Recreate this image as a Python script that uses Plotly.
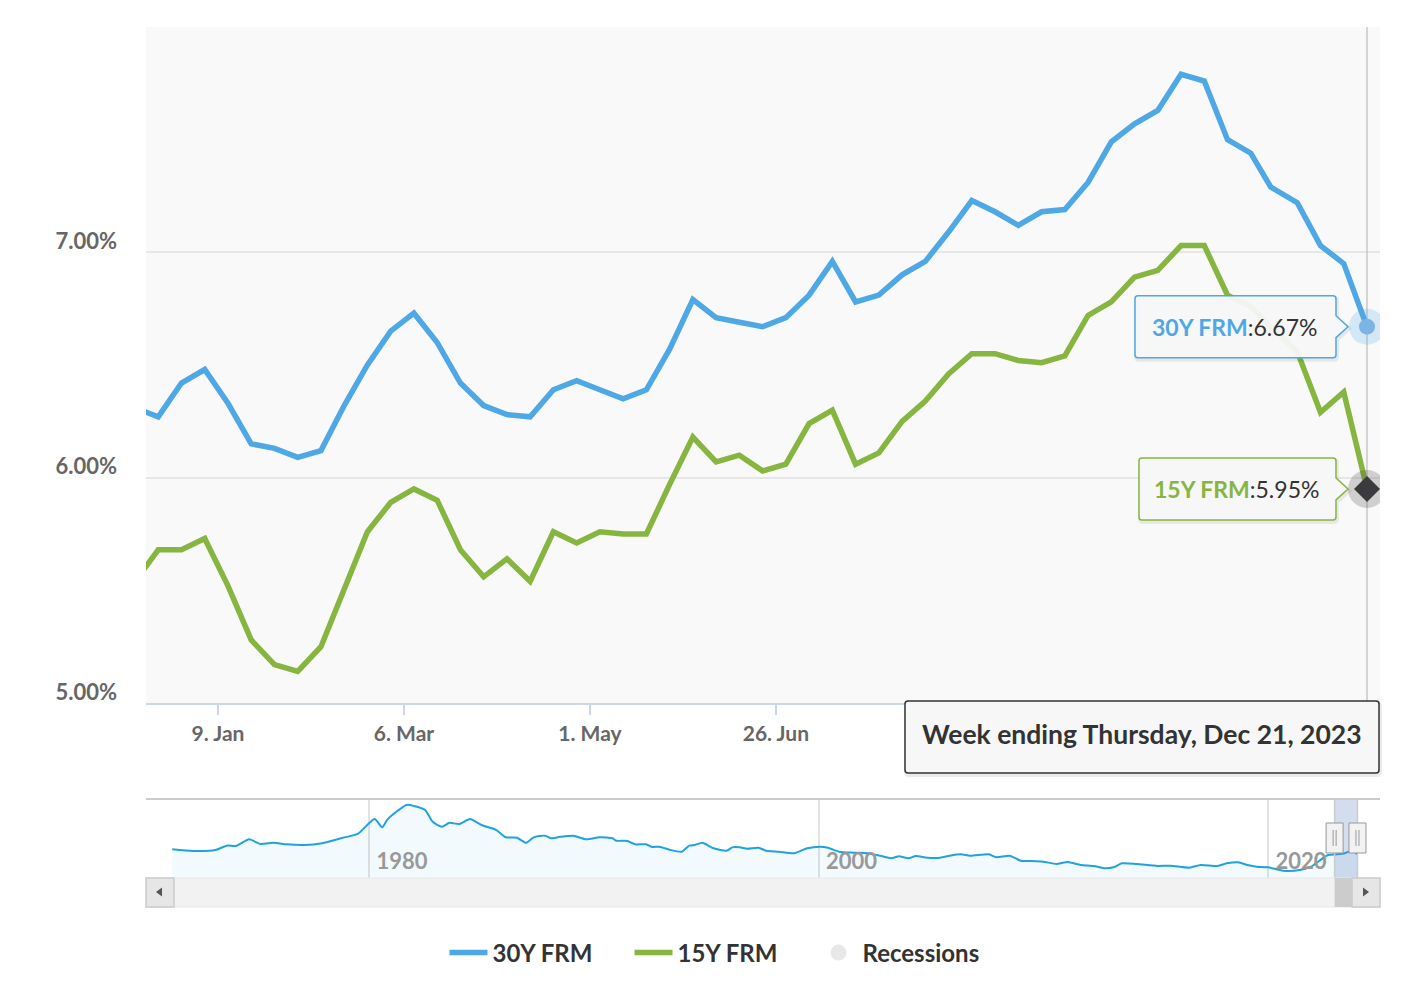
import plotly.graph_objects as go

# ---------------- data ----------------
dates = [
    "2022-12-15", "2022-12-22", "2022-12-29",
    "2023-01-05", "2023-01-12", "2023-01-19", "2023-01-26",
    "2023-02-02", "2023-02-09", "2023-02-16", "2023-02-23",
    "2023-03-02", "2023-03-09", "2023-03-16", "2023-03-23", "2023-03-30",
    "2023-04-06", "2023-04-13", "2023-04-20", "2023-04-27",
    "2023-05-04", "2023-05-11", "2023-05-18", "2023-05-25",
    "2023-06-01", "2023-06-08", "2023-06-15", "2023-06-22", "2023-06-29",
    "2023-07-06", "2023-07-13", "2023-07-20", "2023-07-27",
    "2023-08-03", "2023-08-10", "2023-08-17", "2023-08-24", "2023-08-31",
    "2023-09-07", "2023-09-14", "2023-09-21", "2023-09-28",
    "2023-10-05", "2023-10-12", "2023-10-19", "2023-10-26",
    "2023-11-02", "2023-11-09", "2023-11-16", "2023-11-22", "2023-11-30",
    "2023-12-07", "2023-12-14", "2023-12-21",
]
rate_30y = [
    6.31, 6.27, 6.42,
    6.48, 6.33, 6.15, 6.13,
    6.09, 6.12, 6.32, 6.50,
    6.65, 6.73, 6.60, 6.42, 6.32,
    6.28, 6.27, 6.39, 6.43,
    6.39, 6.35, 6.39, 6.57,
    6.79, 6.71, 6.69, 6.67, 6.71,
    6.81, 6.96, 6.78, 6.81,
    6.90, 6.96, 7.09, 7.23, 7.18,
    7.12, 7.18, 7.19, 7.31,
    7.49, 7.57, 7.63, 7.79,
    7.76, 7.50, 7.44, 7.29, 7.22,
    7.03, 6.95, 6.67,
]
rate_15y = [
    5.54, 5.68, 5.68,
    5.73, 5.52, 5.28, 5.17,
    5.14, 5.25, 5.51, 5.76,
    5.89, 5.95, 5.90, 5.68, 5.56,
    5.64, 5.54, 5.76, 5.71,
    5.76, 5.75, 5.75, 5.97,
    6.18, 6.07, 6.10, 6.03, 6.06,
    6.24, 6.30, 6.06, 6.11,
    6.25, 6.34, 6.46, 6.55, 6.55,
    6.52, 6.51, 6.54, 6.72,
    6.78, 6.89, 6.92, 7.03,
    7.03, 6.81, 6.76, 6.67, 6.56,
    6.29, 6.38, 5.95,
]

# navigator (long history of the 30Y rate, read from the overview strip)
nav_dates = [
    "1971-04-01", "1972-03-01", "1973-03-01", "1973-09-01", "1974-02-01", "1974-09-01",
    "1975-03-01", "1975-10-01", "1976-05-01", "1977-02-01", "1977-12-01", "1978-11-01",
    "1979-07-01", "1980-04-01", "1980-08-01", "1980-11-01", "1981-09-01", "1982-01-01",
    "1982-07-01", "1982-11-01", "1983-04-01", "1983-08-01", "1984-01-01", "1984-07-01",
    "1985-01-01", "1985-09-01", "1986-02-01", "1986-08-01", "1987-01-01", "1987-05-01",
    "1987-11-01", "1988-02-01", "1988-07-01", "1989-02-01", "1989-09-01", "1990-04-01",
    "1990-11-01", "1991-01-01", "1991-07-01", "1991-11-01", "1992-05-01", "1992-08-01",
    "1992-12-01", "1993-06-01", "1993-12-01", "1994-04-01", "1994-07-01", "1994-11-01",
    "1995-05-01", "1995-12-01", "1996-03-01", "1996-07-01", "1996-11-01", "1997-05-01",
    "1997-09-01", "1998-04-01", "1998-12-01", "1999-07-01", "2000-02-01", "2000-06-01",
    "2000-12-01", "2001-08-01", "2002-03-01", "2002-12-01", "2003-04-01", "2003-08-01",
    "2004-01-01", "2004-05-01", "2004-11-01", "2005-06-01", "2005-11-01", "2006-05-01",
    "2006-10-01", "2007-08-01", "2007-12-01", "2008-07-01", "2009-01-01", "2009-06-01",
    "2010-01-01", "2010-08-01", "2011-02-01", "2011-09-01", "2012-04-01", "2012-10-01",
    "2013-03-01", "2013-07-01", "2014-03-01", "2015-02-01", "2015-09-01", "2016-07-01",
    "2017-01-01", "2017-10-01", "2018-03-01", "2018-09-01", "2019-02-01", "2019-07-01",
    "2020-01-01", "2020-09-01", "2021-06-01", "2021-12-01", "2022-09-01", "2023-02-01",
    "2023-06-01", "2023-10-01", "2023-12-21",
]
nav_30y = [
    7.78, 7.40, 7.60, 8.57, 8.50, 9.97,
    8.94, 9.20, 8.87, 8.72, 9.10, 10.30,
    11.13, 14.40, 12.60, 14.40, 17.50, 17.27,
    16.40, 13.80, 12.70, 13.60, 13.30, 14.40,
    13.10, 12.00, 10.40, 10.30, 9.20, 10.40,
    10.76, 10.20, 10.50, 10.76, 9.97, 10.40,
    10.20, 9.66, 9.60, 8.87, 8.87, 8.28,
    8.35, 7.62, 7.25, 8.57, 8.72, 9.23,
    8.00, 7.47, 8.20, 8.20, 7.90, 8.13,
    7.47, 7.25, 6.90, 8.00, 8.35, 8.13,
    7.25, 7.03, 6.90, 6.16, 5.80, 6.24,
    5.80, 6.30, 5.94, 5.94, 6.37, 6.68,
    6.37, 6.68, 6.02, 6.37, 5.28, 5.21,
    5.06, 4.55, 4.99, 4.34, 4.12, 3.60,
    3.90, 4.70, 4.55, 4.12, 4.18, 3.74,
    4.34, 4.12, 4.70, 4.93, 4.34, 3.96,
    3.83, 3.09, 3.24, 3.96, 6.53, 6.68,
    6.90, 7.50, 6.67,
]

# ticks: the last three labels sit under the date box in the reference, so left blank
tick_dates = ["2023-01-09", "2023-03-06", "2023-05-01", "2023-06-26",
              "2023-08-21", "2023-10-16", "2023-12-11"]
tick_labels = ["9. Jan", "6. Mar", "1. May", "26. Jun", "", "", ""]
y_ticks = [5, 6, 7, 8]
y_tick_labels = ["5.00%", "6.00%", "7.00%", ""]
nav_tick_dates = ["1980-01-01", "2000-01-01", "2020-01-01"]
nav_tick_labels = ["1980", "2000", "2020"]

series_names = ["30Y FRM", "15Y FRM", "Recessions"]
date_label = "Week ending Thursday, Dec 21, 2023"

# ---------------- styling / geometry ----------------
BODY = 8
W, H = 1418 - BODY, 988 - BODY
PL, PR, PT, PB = 146, 1380, 27, 907
PW, PH = PR - PL, PB - PT
MAIN_BOTTOM = 703
NAV_TOP, NAV_BOTTOM = 799, 878

C30 = "#4ea8e5"
C15 = "#86b540"
FONT = "Lato"

main_range = ["2022-12-18 07:40", "2023-12-24 22:00"]
nav_range = ["1970-01-29", "2024-12-25"]
y_range = [5, 8]
y2_range = [1.48, 18.8]


def fy(py):
    return (PB - py) / PH


def fx(px):
    return (px - PL) / PW


def off(px, py):
    return px - PL, PT - py


def rr_path(x0, y0, x1, y1, r, dx=0, dy=0):
    a, b = off(x0 + dx, y0 + dy)
    c, d = off(x1 + dx, y1 + dy)
    return (f"M {a + r},{b} L {c - r},{b} Q {c},{b} {c},{b - r} "
            f"L {c},{d + r} Q {c},{d} {c - r},{d} L {a + r},{d} "
            f"Q {a},{d} {a},{d + r} L {a},{b - r} Q {a},{b} {a + r},{b} Z")


def pshape(path, **kw):
    d = dict(type="path", xref="paper", yref="paper", xsizemode="pixel",
             ysizemode="pixel", xanchor=0, yanchor=1, path=path, layer="above")
    d.update(kw)
    return d


def prect(x0, y0, x1, y1, **kw):
    a, b = off(x0, y0)
    c, d = off(x1, y1)
    s = dict(type="rect", xref="paper", yref="paper", xsizemode="pixel",
             ysizemode="pixel", xanchor=0, yanchor=1, x0=a, x1=c, y0=d, y1=b,
             layer="above")
    s.update(kw)
    return s


def callout(Lx, Rx, T, B, tipx, base, r=3, dx=0, dy=0):
    Lx, Rx, tipx = Lx + dx, Rx + dx, tipx + dx
    T, B = T + dy, B + dy
    return (f"M {Lx + r},{T} L {Rx - r},{T} Q {Rx},{T} {Rx},{T - r} "
            f"L {Rx},{base + dy} L {tipx},{dy} L {Rx},{-base + dy} "
            f"L {Rx},{B + r} Q {Rx},{B} {Rx - r},{B} L {Lx + r},{B} "
            f"Q {Lx},{B} {Lx},{B + r} L {Lx},{T - r} Q {Lx},{T} {Lx + r},{T} Z")


fig = go.Figure()

fig.add_trace(go.Scatter(x=dates, y=rate_30y, mode="lines", name=series_names[0],
                         line=dict(color=C30, width=5.5), xaxis="x", yaxis="y"))
fig.add_trace(go.Scatter(x=dates, y=rate_15y, mode="lines", name=series_names[1],
                         line=dict(color=C15, width=5.5), xaxis="x", yaxis="y"))
fig.add_trace(go.Scatter(x=[None], y=[None], mode="markers", name=series_names[2],
                         marker=dict(color="#e8e8e8", size=24, symbol="circle"),
                         xaxis="x", yaxis="y"))

fig.add_trace(go.Scatter(x=[dates[-1]], y=[rate_30y[-1]], mode="markers", showlegend=False,
                         marker=dict(size=36, color="rgba(78,168,229,0.22)", line=dict(width=0))))
fig.add_trace(go.Scatter(x=[dates[-1]], y=[rate_30y[-1]], mode="markers", showlegend=False,
                         marker=dict(size=16, color="#7db4e8", line=dict(width=0))))
fig.add_trace(go.Scatter(x=[dates[-1]], y=[rate_15y[-1]], mode="markers", showlegend=False,
                         marker=dict(size=38, color="rgba(60,60,60,0.22)", line=dict(width=0))))
fig.add_trace(go.Scatter(x=[dates[-1]], y=[rate_15y[-1]], mode="markers", showlegend=False,
                         marker=dict(size=20, color="#3a3a3f", symbol="diamond",
                                     line=dict(width=0))))

fig.add_trace(go.Scatter(x=nav_dates, y=nav_30y, mode="lines", showlegend=False,
                         line=dict(color="#1ea2e0", width=2, shape="spline", smoothing=0.6),
                         fill="tozeroy", fillcolor="rgba(30,162,224,0.06)",
                         xaxis="x2", yaxis="y2"))

shapes = []
shapes.append(prect(PL, PT, PR, MAIN_BOTTOM, fillcolor="#f9f9f9", line=dict(width=0),
                    layer="below"))
shapes.append(dict(type="line", xref="x", yref="y", x0=dates[-1], x1=dates[-1],
                   y0=y_range[0], y1=y_range[1], line=dict(color="#c8c8c8", width=1.5),
                   layer="between"))

for val, col, left in [(rate_30y[-1], C30, -232), (rate_15y[-1], C15, -228)]:
    common = dict(type="path", xref="x", yref="y", xsizemode="pixel", ysizemode="pixel",
                  xanchor=dates[-1], yanchor=val, layer="above")
    shapes.append(dict(common, path=callout(left, -31, 31, -31, -19, 11, dx=1, dy=-2),
                       fillcolor="rgba(0,0,0,0)", line=dict(color="rgba(0,0,0,0.07)", width=4)))
    shapes.append(dict(common, path=callout(left, -31, 31, -31, -19, 11),
                       fillcolor="rgba(247,247,247,0.95)", line=dict(color=col, width=1.5)))

shapes.append(pshape(rr_path(905, 701, 1379, 773, 3, dx=1, dy=2), fillcolor="rgba(0,0,0,0)",
                     line=dict(color="rgba(0,0,0,0.08)", width=4)))
shapes.append(pshape(rr_path(905, 701, 1379, 773, 3), fillcolor="#f7f7f7",
                     line=dict(color="#333333", width=1.5)))

# navigator selection mask and outline
shapes.append(dict(type="rect", xref="x2", yref="y2", x0=main_range[0], x1=main_range[1],
                   y0=y2_range[0], y1=y2_range[1], fillcolor="rgba(102,133,194,0.28)",
                   line=dict(width=0), layer="above"))
top_off = off(PL, NAV_TOP)[1]
bot_off = off(PL, NAV_BOTTOM)[1]
shapes.append(prect(PL, NAV_TOP - 1, PR, NAV_TOP + 1, fillcolor="#cccccc", line=dict(width=0)))
for edge in main_range:
    shapes.append(dict(type="line", xref="x2", yref="paper", xsizemode="pixel",
                       ysizemode="pixel", xanchor=edge, yanchor=1, x0=0, x1=0,
                       y0=top_off, y1=bot_off, line=dict(color="#cccccc", width=1.5),
                       layer="above"))

# scrollbar
sb_top = off(0, NAV_BOTTOM)[1]
sb_bot = off(0, PB)[1]
shapes.append(prect(PL, NAV_BOTTOM, PR, PB, fillcolor="#f2f2f2",
                    line=dict(color="#e8e8e8", width=1)))
shapes.append(dict(type="path", xref="x2", yref="paper", xsizemode="pixel", ysizemode="pixel",
                   xanchor=main_range[0], yanchor=1,
                   path=f"M 0,{sb_top} L 30,{sb_top} L 30,{sb_bot} L 0,{sb_bot} Z",
                   fillcolor="#cccccc", line=dict(width=0), layer="above"))
shapes.append(prect(PL, NAV_BOTTOM, PL + 28, PB, fillcolor="#e6e6e6",
                    line=dict(color="#cccccc", width=1.5)))
shapes.append(prect(PR - 28, NAV_BOTTOM, PR, PB, fillcolor="#e6e6e6",
                    line=dict(color="#cccccc", width=1.5)))
ax, ay = off(156, 892)
shapes.append(pshape(f"M {ax},{ay} L {ax + 6},{ay + 4.5} L {ax + 6},{ay - 4.5} Z",
                     fillcolor="#555555", line=dict(width=0)))
ax, ay = off(1369, 892)
shapes.append(pshape(f"M {ax},{ay} L {ax - 6},{ay + 4.5} L {ax - 6},{ay - 4.5} Z",
                     fillcolor="#555555", line=dict(width=0)))

# navigator handles
hy_top = off(0, 823)[1]
hy_bot = off(0, 853)[1]
hy_mid = (hy_top + hy_bot) / 2
for edge in main_range:
    base = dict(xref="x2", yref="paper", xsizemode="pixel", ysizemode="pixel",
                xanchor=edge, yanchor=1, layer="above")
    shapes.append(dict(base, type="path",
                       path=f"M -8.5,{hy_top} L 8.5,{hy_top} L 8.5,{hy_bot} L -8.5,{hy_bot} Z",
                       fillcolor="#f2f2f2", line=dict(color="#999999", width=1)))
    shapes.append(dict(base, type="path",
                       path=f"M -1.5,{hy_mid + 8} L -1.5,{hy_mid - 8} M 1.5,{hy_mid + 8} L 1.5,{hy_mid - 8}",
                       line=dict(color="#999999", width=1)))

annotations = [
    dict(x=dates[-1], y=rate_30y[-1], xref="x", yref="y", showarrow=False,
         xanchor="center", yanchor="middle", xshift=-132, yshift=0,
         text=f"<b><span style='color:{C30}'>{series_names[0]}</span></b>:{rate_30y[-1]:.2f}%",
         font=dict(family=FONT, size=23, color="#333333")),
    dict(x=dates[-1], y=rate_15y[-1], xref="x", yref="y", showarrow=False,
         xanchor="center", yanchor="middle", xshift=-130, yshift=0,
         text=f"<b><span style='color:{C15}'>{series_names[1]}</span></b>:{rate_15y[-1]:.2f}%",
         font=dict(family=FONT, size=23, color="#333333")),
    dict(x=fx(1142), y=fy(734), xref="paper", yref="paper", showarrow=False,
         xanchor="center", yanchor="middle", text=f"<b>{date_label}</b>",
         font=dict(family=FONT, size=26.5, color="#333333")),
]

fig.update_layout(
    width=W, height=H,
    margin=dict(l=PL - BODY, r=W - (PR - BODY), t=PT - BODY, b=H - (PB - BODY), pad=0),
    paper_bgcolor="white", plot_bgcolor="rgba(0,0,0,0)",
    hovermode=False,
    font=dict(family=FONT, color="#666666"),
    xaxis=dict(domain=[0, 1], anchor="y", type="date", range=main_range,
               tickmode="array", tickvals=tick_dates, ticktext=tick_labels,
               ticks="outside", ticklen=10, tickwidth=1.5, tickcolor="#ccd6eb",
               showgrid=False, zeroline=False, showline=True, linecolor="#ccd6eb",
               linewidth=2, ticklabelstandoff=1,
               tickfont=dict(family=FONT, size=21, color="#666666", weight="bold")),
    yaxis=dict(domain=[fy(MAIN_BOTTOM), 1], anchor="x", range=y_range,
               tickmode="array", tickvals=y_ticks, ticktext=y_tick_labels,
               showgrid=True, gridcolor="#e6e6e6", gridwidth=1.5, zeroline=False,
               showline=False, ticks="", ticklabelshift=-11, ticklabelstandoff=28,
               tickfont=dict(family=FONT, size=22, color="#666666", weight="bold")),
    xaxis2=dict(domain=[0, 1], anchor="y2", type="date", range=nav_range,
                tickmode="array", tickvals=nav_tick_dates, ticktext=nav_tick_labels,
                showgrid=True, gridcolor="#e3e3e3", gridwidth=1.5, zeroline=False,
                showline=False, ticks="", ticklabelposition="inside",
                ticklabelshift=33, ticklabelstandoff=2,
                tickfont=dict(family=FONT, size=22, color="#999999", weight="bold")),
    yaxis2=dict(domain=[fy(NAV_BOTTOM), fy(NAV_TOP)], anchor="x2", range=y2_range,
                showgrid=False, zeroline=False, showline=False, showticklabels=False,
                ticks=""),
    shapes=shapes,
    annotations=annotations,
    showlegend=True,
    legend=dict(orientation="h", x=fx(722), xanchor="center", y=fy(953), yanchor="middle",
                font=dict(family=FONT, size=24, color="#333333", weight="bold"),
                bgcolor="rgba(0,0,0,0)", itemsizing="trace", itemwidth=38, entrywidth=132,
                traceorder="normal"),
)

fig.write_html("out.html")
